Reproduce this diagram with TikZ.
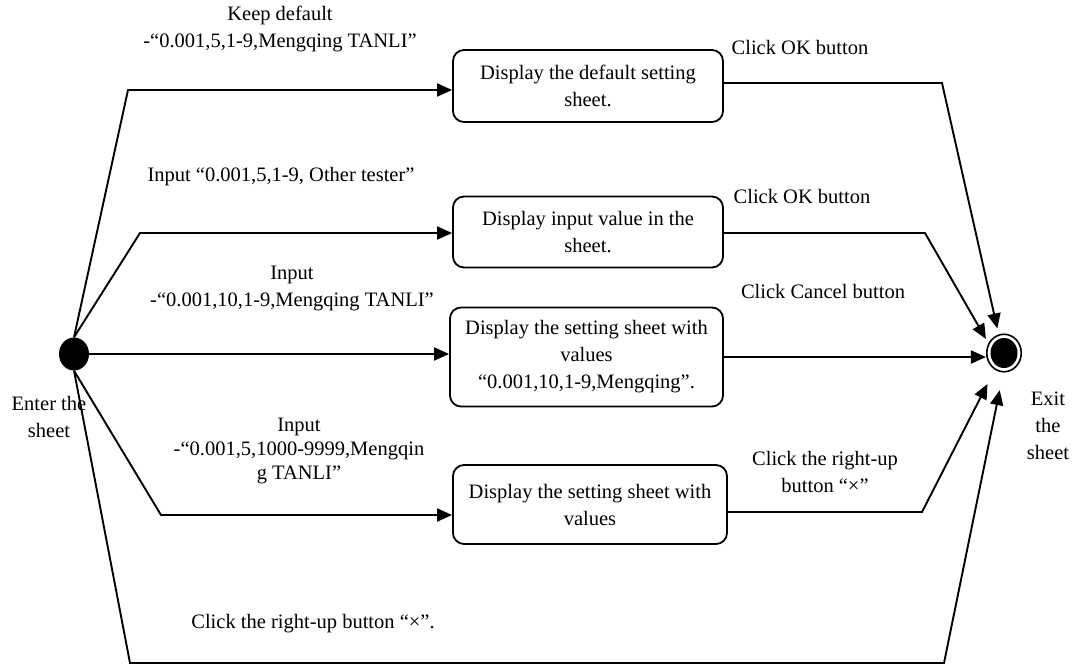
\documentclass[tikz,border=0pt]{standalone}
\usepackage{fontspec}
\setmainfont{Liberation Serif}
\usetikzlibrary{arrows.meta,shapes.geometric}
\begin{document}
\begin{tikzpicture}[x=1pt,y=-1pt,
  every node/.style={font=\fontsize{20.5}{27}\selectfont},
  lbl/.style={align=center, inner sep=0pt},
  state/.style={draw, line width=1.8pt, rounded corners=11pt, align=center, inner sep=0pt},
  flow/.style={line width=1.9pt, line join=miter},
  arr/.style={flow, -{Triangle[length=15pt,width=13pt]}}]
\useasboundingbox (0,0) rectangle (1079,667);

% initial and final states
\node[ellipse, fill=black, minimum width=30pt, minimum height=33pt, inner sep=0pt] (start) at (74,354) {};
\node[ellipse, draw, line width=1.6pt, minimum width=34.5pt, minimum height=37.5pt, inner sep=0pt] (end) at (1004,353) {};
\fill (end.center) ellipse [x radius=13.5pt, y radius=15pt];

% activity boxes
\node[state, minimum width=270pt, minimum height=72pt] (b1) at (588,86) {Display the default setting\\sheet.};
\node[state, minimum width=270pt, minimum height=71pt] (b2) at (588,232) {Display input value in the\\sheet.};
\node[state, minimum width=273pt, minimum height=99pt] (b3) at (586.5,357) {Display the setting sheet with\\values\\“0.001,10,1-9,Mengqing”.};
\node[state, minimum width=274pt, minimum height=79pt] (b4) at (590,504.5) {Display the setting sheet with\\values};

% bend points of the connectors
\coordinate (l1) at (128,90);
\coordinate (l2) at (140,233);
\coordinate (l4) at (161,515);
\coordinate (l5) at (130,663);
\coordinate (r1) at (942,83);
\coordinate (r2) at (925,233);
\coordinate (r4) at (922,512);
\coordinate (r5) at (944,663);

% from the initial state to the boxes
\draw[arr] (start.north) -- (l1) -- (l1 -| b1.west);
\draw[arr] (start.north) -- (l2) -- (l2 -| b2.west);
\draw[arr] (start.east) -- (start.east -| b3.west);
\draw[arr] (start.south) -- (l4) -- (l4 -| b4.west);

% from the boxes to the final state
\draw[arr, shorten >=6pt] (b1.east |- r1) -- (r1) -- (end.106);
\draw[arr, shorten >=5pt] (b2.east |- r2) -- (r2) -- (end.148);
\draw[arr] (b3.east) -- (b3.east -| end.west);
\draw[arr, shorten >=16pt] (b4.east |- r4) -- (r4) -- (end.241);
\draw[arr, shorten >=18pt] (start.south) -- (l5) -- (r5) -- (end.268);

% labels
\node[lbl] (t1) at (280,29) {Keep default\\-“0.001,5,1-9,Mengqing TANLI”};
\node[lbl] (t2) at (281,177) {Input “0.001,5,1-9, Other tester”};
\node[lbl] (t3) at (292,288) {Input\\-“0.001,10,1-9,Mengqing TANLI”};
\node[lbl, font=\fontsize{20.5}{24}\selectfont] (t4) at (299,451) {Input\\-“0.001,5,1000-9999,Mengqin\\g TANLI”};
\node[lbl] (t5) at (313,624) {Click the right-up button “×”.};
\node[lbl] (o1) at (800,47) {Click OK button};
\node[lbl] (o2) at (802,196) {Click OK button};
\node[lbl] (o3) at (823,291) {Click Cancel button};
\node[lbl] (o4) at (825,472) {Click the right-up\\button “×”};
\node[lbl] (en) at (49,417) {Enter the\\sheet};
\node[lbl] (ex) at (1048,426) {Exit\\the\\sheet};
\end{tikzpicture}
\end{document}
